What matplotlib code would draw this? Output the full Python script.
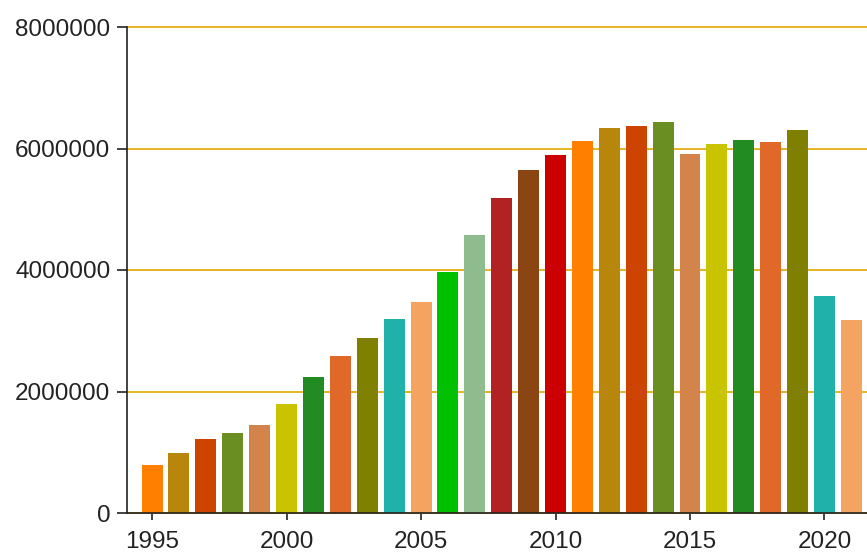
import matplotlib
matplotlib.use('Agg')
import matplotlib.pyplot as plt

years = list(range(1995, 2022))
values = [790000, 990000, 1220000, 1320000, 1450000, 1790000, 2240000, 2580000,
          2880000, 3200000, 3470000, 3970000, 4580000, 5180000, 5640000, 5900000,
          6130000, 6330000, 6375000, 6430000, 5910000, 6070000, 6135000, 6105000,
          6300000, 3565000, 3175000]

palette = ['#ff8000', '#b8860b', '#cc4400', '#6b8e23', '#d2844a', '#c8c400',
           '#228b22', '#e0692a', '#808000', '#20b2aa', '#f4a460', '#00c000',
           '#8fbc8f', '#b22222', '#8b4513', '#cc0000']
colors = [palette[i % len(palette)] for i in range(len(years))]

plt.rcParams['font.family'] = ['Liberation Sans', 'DejaVu Sans']

fig = plt.figure(figsize=(8.67, 5.53), dpi=100)
ax = fig.add_axes([127 / 867, 40 / 553, 1 - 127 / 867, (513 - 27) / 553])

ax.bar(years, values, width=0.78, color=colors, zorder=2)

ax.set_xlim(1994.07, 2021.58)
ax.set_ylim(0, 8000000)
ax.set_yticks([0, 2000000, 4000000, 6000000, 8000000])
ax.set_yticklabels(['0', '2000000', '4000000', '6000000', '8000000'])
ax.set_xticks([1995, 2000, 2005, 2010, 2015, 2020])

ax.yaxis.grid(True, color='#e0a800', linewidth=1.2, zorder=1)
ax.set_axisbelow(True)
for gl in ax.get_ygridlines():
    gl.set_clip_on(False)

for s in ['top', 'right']:
    ax.spines[s].set_visible(False)
for s in ['left', 'bottom']:
    ax.spines[s].set_color('#222222')
    ax.spines[s].set_linewidth(1.2)

ax.tick_params(axis='y', length=7, width=1.2, pad=5, labelsize=17.5, colors='#222222')
ax.tick_params(axis='x', length=5, width=1.2, pad=8, labelsize=17.5, colors='#222222')

fig.savefig('out.png', dpi=100)
